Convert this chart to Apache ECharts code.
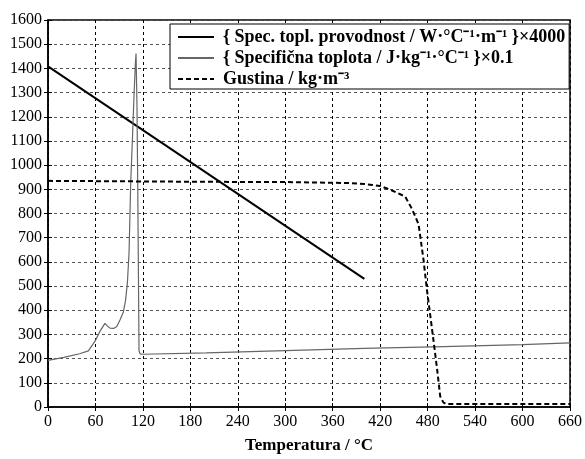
<!DOCTYPE html>
<html>
<head>
<meta charset="utf-8">
<script src="https://cdn.jsdelivr.net/npm/echarts@6/dist/echarts.min.js"></script>
<style>html,body{margin:0;padding:0;background:#fff}#c{width:585px;height:459px}</style>
</head>
<body>
<div id="c"></div>
<script>
// Series names
var seriesNames = [
  '{ Spec. topl. provodnost / W·°C⁻¹·m⁻¹ }×4000',
  '{ Specifična toplota / J·kg⁻¹·°C⁻¹ }×0.1',
  'Gustina / kg·m⁻³'
];
// Conductivity (scaled x4000)
var condT = [0, 400];
var condV = [1408, 530];
// Specific heat (scaled x0.1)
var heatT = [0, 20, 40, 51, 59.5, 66, 72, 75, 78.4, 83, 87, 91, 95.3, 98, 100.4, 102.5, 104.6, 107, 108.8, 110.5, 111.3, 112.5, 113.5, 114.3, 115.1, 116.4, 120, 200, 300, 400, 500, 600, 660];
var heatV = [193, 205, 220, 232, 272, 315, 346, 335, 326, 325, 333, 360, 393, 440, 514, 640, 930, 1130, 1293, 1420, 1461, 1250, 900, 561, 232, 220, 218, 224, 233, 242, 250, 258, 265];
// Density
var densT = [0, 100, 200, 300, 380, 400, 410, 420, 435, 451.6, 460, 468.5, 474.8, 479, 485.4, 491.7, 495.9, 500, 504.3, 540, 600, 660];
var densV = [935, 933, 931, 930, 926, 922, 918, 914, 895, 870, 820, 756, 608, 487, 326, 164, 44, 18, 12, 12, 12, 12];
// Axes
var xMin = 0, xMax = 660, xStep = 60;
var yMin = 0, yMax = 1600, yStep = 100;
var xTitle = 'Temperatura / °C';

function pairs(t, v) { return t.map(function (x, i) { return [x, v[i]]; }); }

var serif = 'Liberation Serif';
var chart = echarts.init(document.getElementById('c'));
chart.setOption({
  animation: false,
  backgroundColor: '#fff',
  grid: { left: 48, right: 15, top: 20, bottom: 42, show: true, borderColor: '#000', borderWidth: 1.5 },
  legend: {
    left: 170, top: 24,
    orient: 'vertical',
    backgroundColor: '#fff',
    borderColor: '#000', borderWidth: 1,
    padding: [4, 4, 1, 7],
    itemGap: 3,
    itemWidth: 36, itemHeight: 16,
    itemStyle: { opacity: 0, color: 'rgba(0,0,0,0)', borderColor: 'rgba(0,0,0,0)', borderWidth: 0 },
    textStyle: { fontFamily: serif, fontWeight: 'bold', fontSize: 18, color: '#000', padding: [0, 0, 0, 4] },
    data: seriesNames
  },
  xAxis: [{
    type: 'value', min: xMin, max: xMax, interval: xStep,
    name: xTitle, nameLocation: 'middle', nameGap: 30,
    nameTextStyle: { fontFamily: serif, fontWeight: 'bold', fontSize: 17, color: '#000' },
    axisLine: { show: true, lineStyle: { color: '#000', width: 1.5 } },
    axisTick: { show: true, inside: true, length: 4, lineStyle: { color: '#000' } },
    axisLabel: { fontFamily: serif, fontSize: 16, color: '#000', margin: 7 },
    splitLine: { show: true, lineStyle: { color: '#000', type: [3, 3], width: 1 } }
  }, {
    type: 'value', min: xMin, max: xMax, interval: xStep, position: 'top',
    axisLine: { show: false }, axisLabel: { show: false },
    axisTick: { show: true, inside: true, length: 4, lineStyle: { color: '#000' } },
    splitLine: { show: false }
  }],
  yAxis: [{
    type: 'value', min: yMin, max: yMax, interval: yStep,
    axisLine: { show: true, lineStyle: { color: '#000', width: 1.5 } },
    axisTick: { show: true, inside: true, length: 4, lineStyle: { color: '#000' } },
    axisLabel: { fontFamily: serif, fontSize: 16, color: '#000', margin: 6, formatter: function (v) { return String(v); } },
    splitLine: { show: true, lineStyle: { color: '#555', type: [3, 3], width: 1 } }
  }, {
    type: 'value', min: yMin, max: yMax, interval: yStep, position: 'right',
    axisLine: { show: false }, axisLabel: { show: false },
    axisTick: { show: true, inside: true, length: 4, lineStyle: { color: '#000' } },
    splitLine: { show: false }
  }],
  series: [{
    name: seriesNames[0], type: 'line', showSymbol: false, symbol: 'none',
    data: pairs(condT, condV),
    lineStyle: { color: '#000', width: 2 }, itemStyle: { color: '#000' }
  }, {
    name: seriesNames[1], type: 'line', showSymbol: false, symbol: 'none',
    data: pairs(heatT, heatV),
    lineStyle: { color: '#666', width: 1.2 }, itemStyle: { color: '#666' }
  }, {
    name: seriesNames[2], type: 'line', showSymbol: false, symbol: 'none',
    data: pairs(densT, densV),
    lineStyle: { color: '#000', width: 2, type: [5, 3] }, itemStyle: { color: '#000' }
  }]
});
</script>
</body>
</html>
